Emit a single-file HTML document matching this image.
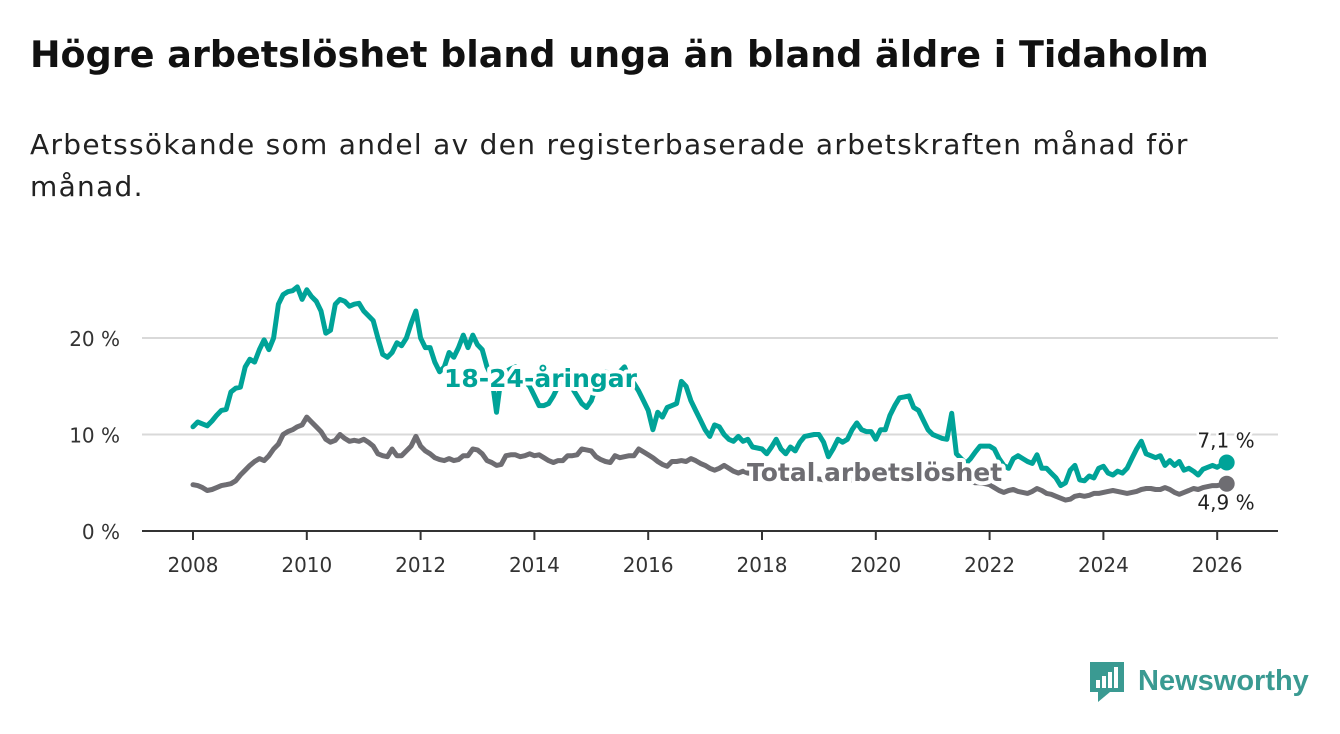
<!DOCTYPE html>
<html><head><meta charset="utf-8"><style>
body{margin:0;width:1340px;height:734px;background:#fff;font-family:"DejaVu Sans",sans-serif;overflow:hidden;position:relative}
h1{position:absolute;left:30px;top:33px;margin:0;font-size:36.5px;font-weight:bold;color:#111;white-space:nowrap}
p{position:absolute;left:30px;top:124px;margin:0;font-size:28px;letter-spacing:1.3px;line-height:42px;color:#222;width:1210px}
svg{position:absolute;left:0;top:0}
</style></head><body>
<h1>Högre arbetslöshet bland unga än bland äldre i Tidaholm</h1>
<p>Arbetssökande som andel av den registerbaserade arbetskraften månad för månad.</p>
<svg id="c" width="1340" height="734"></svg>
<script>
const youth=[10.8,11.3,11.1,10.9,11.4,12.0,12.5,12.6,14.4,14.8,14.9,17.0,
17.8,17.5,18.8,19.8,18.8,20.0,23.5,24.5,24.8,24.9,25.3,24.0,
25.0,24.3,23.8,22.8,20.5,20.8,23.5,24.0,23.8,23.3,23.5,23.6,
22.8,22.3,21.8,20.0,18.3,18.0,18.5,19.5,19.2,20.0,21.5,22.8,
20.0,19.0,19.0,17.5,16.5,17.0,18.5,18.0,19.0,20.3,19.0,20.3,
19.3,18.8,17.0,16.0,12.3,16.0,16.5,16.8,17.0,16.0,15.5,15.0,
14.0,13.0,13.0,13.2,14.0,15.0,15.5,15.3,14.8,14.0,13.2,12.8,
13.5,15.0,16.0,16.5,16.3,16.0,16.5,17.0,15.8,15.3,14.5,13.5,
12.5,10.5,12.3,11.8,12.8,13.0,13.2,15.5,15.0,13.5,12.5,11.5,
10.5,9.8,11.0,10.8,10.0,9.5,9.3,9.8,9.3,9.5,8.7,8.6,
8.5,8.0,8.7,9.5,8.5,8.0,8.7,8.3,9.2,9.8,9.9,10.0,
10.0,9.2,7.7,8.5,9.5,9.2,9.5,10.5,11.2,10.5,10.3,10.3,
9.5,10.5,10.5,12.0,13.0,13.8,13.9,14.0,12.8,12.5,11.5,10.5,
10.0,9.8,9.6,9.5,12.2,8.0,7.5,7.0,7.5,8.2,8.8,8.8,
8.8,8.5,7.5,6.8,6.5,7.5,7.8,7.5,7.2,7.0,7.9,6.5,
6.5,6.0,5.5,4.7,5.0,6.3,6.8,5.3,5.2,5.7,5.5,6.5,
6.7,6.0,5.8,6.2,6.0,6.5,7.5,8.5,9.3,8.0,7.8,7.6,
7.8,6.8,7.3,6.8,7.2,6.3,6.5,6.2,5.8,6.4,6.6,6.8,
6.6,6.9,7.1];
const total=[4.8,4.7,4.5,4.2,4.3,4.5,4.7,4.8,4.9,5.2,5.8,6.3,
6.8,7.2,7.5,7.3,7.8,8.5,9.0,10.0,10.3,10.5,10.8,11.0,
11.8,11.3,10.8,10.3,9.5,9.2,9.4,10.0,9.6,9.3,9.4,9.3,
9.5,9.2,8.8,8.0,7.8,7.7,8.5,7.8,7.8,8.3,8.8,9.8,
8.8,8.3,8.0,7.6,7.4,7.3,7.5,7.3,7.4,7.8,7.8,8.5,
8.4,8.0,7.3,7.1,6.8,6.9,7.8,7.9,7.9,7.7,7.8,8.0,
7.8,7.9,7.6,7.3,7.1,7.3,7.3,7.8,7.8,7.9,8.5,8.4,
8.3,7.7,7.4,7.2,7.1,7.8,7.6,7.7,7.8,7.8,8.5,8.2,
7.9,7.6,7.2,6.9,6.7,7.2,7.2,7.3,7.2,7.5,7.3,7.0,
6.8,6.5,6.3,6.5,6.8,6.5,6.2,6.0,6.2,6.0,6.0,6.0,
5.9,5.8,5.8,5.8,5.7,5.7,5.6,5.6,5.5,5.5,5.4,5.4,
5.4,5.3,5.3,5.2,5.3,5.4,5.3,5.3,5.4,5.5,5.6,5.8,
6.0,6.2,6.6,6.8,6.8,6.6,6.4,6.3,6.2,6.0,6.0,5.9,
5.8,5.7,5.6,5.5,5.5,5.4,5.3,5.2,5.1,5.0,5.0,4.9,
4.8,4.5,4.2,4.0,4.2,4.3,4.1,4.0,3.9,4.1,4.4,4.2,
3.9,3.8,3.6,3.4,3.2,3.3,3.6,3.7,3.6,3.7,3.9,3.9,
4.0,4.1,4.2,4.1,4.0,3.9,4.0,4.1,4.3,4.4,4.4,4.3,
4.3,4.5,4.3,4.0,3.8,4.0,4.2,4.4,4.3,4.5,4.6,4.7,
4.7,4.8,4.9];
const yTicks=[0,10,20];
const yTickLabels=["0 %","10 %","20 %"];
const xTicks=[2008,2010,2012,2014,2016,2018,2020,2022,2024,2026];
const startYear=2008;
const X=t=>193+(t-2008)*56.9;
const Y=v=>531-v*9.65;
const NS="http://www.w3.org/2000/svg";
const svg=document.getElementById('c');
function mk(tag,attrs,parent){const e=document.createElementNS(NS,tag);for(const k in attrs)e.setAttribute(k,attrs[k]);(parent||svg).appendChild(e);return e;}
yTicks.forEach((v,i)=>{
 if(v>0){const g=mk('line',{x1:142,x2:1278,y1:Y(v),y2:Y(v),stroke:'#d9d9d9','stroke-width':2});
 
 }
 const t=mk('text',{x:120,y:Y(v)+8,'text-anchor':'end','font-size':20,fill:'#333'});
 t.textContent=yTickLabels[i];
 
 
});
const ax=mk('line',{x1:142,x2:1278,y1:531,y2:531,stroke:'#333','stroke-width':2});


xTicks.forEach(yr=>{
 const l=mk('line',{x1:X(yr),x2:X(yr),y1:531,y2:540,stroke:'#333','stroke-width':2});
 
 
 const t=mk('text',{x:X(yr),y:572,'text-anchor':'middle','font-size':20,fill:'#333'});
 t.textContent=yr;
 
 
});
function line(arr,color,name){
 const d=arr.map((v,i)=>(i?'L':'M')+X(startYear+i/12).toFixed(1)+','+Y(v).toFixed(1)).join('');
 const p=mk('path',{d:d,fill:'none',stroke:color,'stroke-width':5,'stroke-linejoin':'round','stroke-linecap':'round'});
 
 
 const n=arr.length-1;
 const c=mk('circle',{cx:X(startYear+n/12),cy:Y(arr[n]),r:8,fill:color});
 
 
}
line(total,'#6e6d72','total-line');
line(youth,'#00a398','youth-line');
function label(txt,x,y,color,name,anchor,bold,size){
 const t=mk('text',{x:x,y:y,'text-anchor':anchor,'font-size':size,'font-weight':bold?'bold':'normal',fill:color,stroke:'#fff','stroke-width':bold?8:5,'paint-order':'stroke','stroke-linejoin':'round'});
 t.textContent=txt;
 
 
}
label('18-24-åringar',444,387,'#00a398','youth-series-label','start',true,25);
label('Total arbetslöshet',747,481,'#6e6d72','total-series-label','start',true,25);
const nY=youth.length-1,nT=total.length-1;
label(youth[nY].toFixed(1).replace('.',',')+' %',1226,Y(youth[nY])-15,'#222','youth-end-value','middle',false,20);
label(total[nT].toFixed(1).replace('.',',')+' %',1226,Y(total[nT])+26,'#222','total-end-value','middle',false,20);
</script>
<svg width="1340" height="734">
<path d="M1090 662h34v30h-14l-12 10v-10h-8z" fill="#3a9a92"/>
<rect x="1096" y="680" width="4" height="8" fill="#fff"/><rect x="1102" y="676" width="4" height="12" fill="#fff"/><rect x="1108" y="672" width="4" height="16" fill="#fff"/><rect x="1114" y="667" width="4" height="21" fill="#fff"/>
<text x="1138" y="690" font-size="29" font-weight="bold" fill="#3a9a92" font-family="Liberation Sans,sans-serif">Newsworthy</text>
</svg>
</body></html>
